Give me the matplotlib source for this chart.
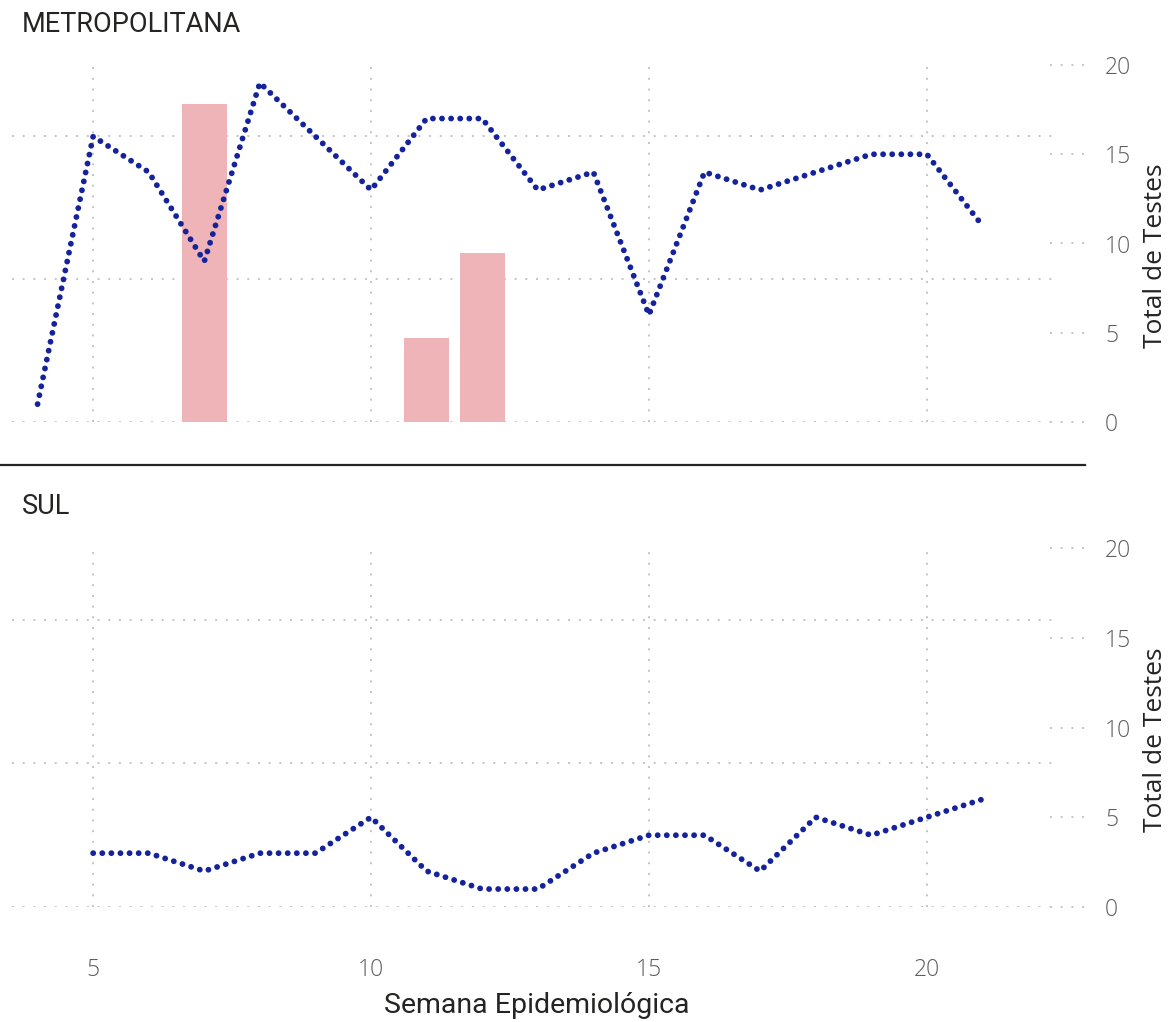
import matplotlib.pyplot as plt
from matplotlib.lines import Line2D

# data
semanas_metro = [4, 5, 6, 7, 8, 9, 10, 11, 12, 13, 14, 15, 16, 17, 18, 19, 20, 21]
testes_metro = [1, 16, 14, 9, 19, 16, 13, 17, 17, 13, 14, 6, 14, 13, 14, 15, 15, 11]
semanas_bar = [7, 11, 12]
valores_bar = [22.3, 5.9, 11.8]

semanas_sul = [5, 6, 7, 8, 9, 10, 11, 12, 13, 14, 15, 16, 17, 18, 19, 20, 21]
testes_sul = [3, 3, 2, 3, 3, 5, 2, 1, 1, 3, 4, 4, 2, 5, 4, 5, 6]

x_ticks = [5, 10, 15, 20]
y_ticks = [0, 5, 10, 15, 20]

LINE_COLOR = '#14229c'
BAR_COLOR = '#efb4b8'
GRID_COLOR = '#c4c4c4'
TICK_COLOR = '#605e5c'
W, H = 1171, 1022

fig = plt.figure(figsize=(W / 100, H / 100), dpi=100)


def make_panel(top_px, bottom_px, titulo, semanas, testes, bars=None, xlabels=False):
  ax = fig.add_axes([12 / W, 1 - bottom_px / H, 1046 / W, (bottom_px - top_px) / H])
  ax.set_xlim(3.54, 22.36)
  ax.set_ylim(0, 25)
  for s in ax.spines.values():
    s.set_visible(False)
  # hidden left axis gridlines
  for g in [0, 10, 20]:
    ax.axhline(g, color=GRID_COLOR, lw=1.4, ls=(0, (1, 4.5)), zorder=0)
  for xv in x_ticks:
    ax.axvline(xv, color=GRID_COLOR, lw=1.4, ls=(0, (1, 4.5)), zorder=0)
  if bars is not None:
    ax.bar(bars[0], bars[1], width=0.81, color=BAR_COLOR, zorder=1)
  ax.set_yticks([])
  ax.set_xticks(x_ticks)
  ax.tick_params(axis='x', length=0, pad=37, labelsize=16.5, labelcolor=TICK_COLOR)
  if not xlabels:
    ax.set_xticklabels([])
  else:
    for lab in ax.get_xticklabels():
      lab.set_fontfamily('Open Sans')
      lab.set_fontweight('light')

  ax2 = ax.twinx()
  ax2.set_ylim(0, 20)
  for s in ax2.spines.values():
    s.set_visible(False)
  ax2.plot(semanas, testes, color=LINE_COLOR, lw=4.2, ls=(0, (0.01, 1.55)),
           dash_capstyle='round', zorder=3)
  ax2.set_yticks(y_ticks)
  ax2.tick_params(axis='y', length=0, pad=34, labelsize=16.5, labelcolor=TICK_COLOR)
  for lab in ax2.get_yticklabels():
    lab.set_fontfamily('Open Sans')
    lab.set_fontweight('light')
  # short dotted stubs next to the right tick labels
  tr = ax2.get_yaxis_transform()
  for yv in y_ticks:
    ax2.add_line(Line2D([0.992, 1.027], [yv, yv], transform=tr, color=GRID_COLOR,
                        lw=1.4, ls=(0, (1, 4.5)), clip_on=False))

  fig.text(22 / W, 1 - (top_px - 41) / H, titulo, fontsize=19.5, family='Roboto',
           color='#252423', va='center', ha='left')
  fig.text(1155 / W, 1 - ((top_px + bottom_px) / 2 + 12) / H, 'Total de Testes',
           rotation=90, fontsize=19, family='Open Sans', color='#252423',
           va='center', ha='center')
  return ax


make_panel(65, 422, 'METROPOLITANA', semanas_metro, testes_metro,
           bars=(semanas_bar, valores_bar))
make_panel(548, 907, 'SUL', semanas_sul, testes_sul, xlabels=True)

# separator between panels
fig.add_artist(Line2D([0, 1085 / W], [1 - 465 / H, 1 - 465 / H], color='#252423', lw=1.6))

fig.text(537 / W, 1 - 1005 / H, 'Semana Epidemiológica', fontsize=20.5, family='Roboto',
         color='#252423', ha='center', va='center')

fig.savefig('out.png', dpi=100)
